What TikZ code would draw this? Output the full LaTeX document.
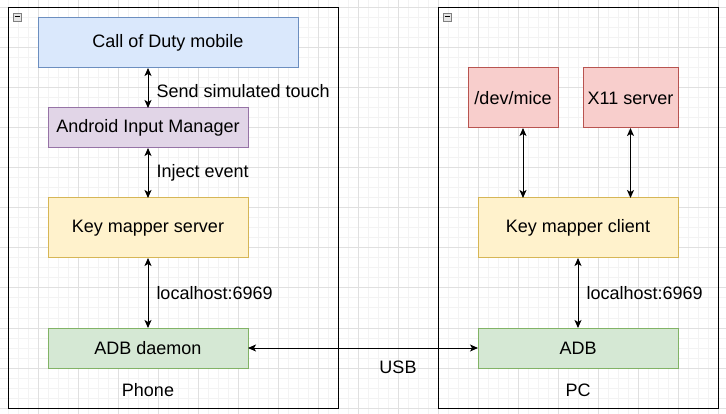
\documentclass[tikz,border=0pt]{standalone}
\usepackage{fontspec}
\setmainfont{Liberation Sans}
\usepackage{xcolor}
\usepackage{tikz}
\usetikzlibrary{positioning}
\usetikzlibrary{arrows.meta}

\definecolor{blueFill}{HTML}{DAE8FC}
\definecolor{blueLine}{HTML}{6C8EBF}
\definecolor{purpleFill}{HTML}{E1D5E7}
\definecolor{purpleLine}{HTML}{9673A6}
\definecolor{yellowFill}{HTML}{FFF2CC}
\definecolor{yellowLine}{HTML}{D6B656}
\definecolor{greenFill}{HTML}{D5E8D4}
\definecolor{greenLine}{HTML}{82B366}
\definecolor{redFill}{HTML}{F8CECC}
\definecolor{redLine}{HTML}{B85450}
\definecolor{gridMinor}{HTML}{F3F3F3}
\definecolor{gridMajor}{HTML}{E0E0E0}

\begin{document}
\begin{tikzpicture}[x=1pt, y=-1pt, font=\fontsize{18pt}{21pt}\selectfont]

        \def\d{70pt}
        \def\h{50pt}

        % Styles for boxes, frames and the two-headed links
        \tikzset{
            box/.style={draw, line width=1pt, inner sep=0pt, outer sep=0pt,
                minimum width=200pt, minimum height=40pt},
            frame/.style={draw=black, line width=1pt, inner sep=0pt, outer sep=0pt},
            link/.style={line width=1pt,
                {Stealth[length=8pt,width=7pt,inset=2pt]}-{Stealth[length=8pt,width=7pt,inset=2pt]}},
            tag/.style={right, inner sep=0pt, xshift=8pt},
        }

        \useasboundingbox (0,0) rectangle (726,414);

        % Background grid
        \begin{scope}[line width=1pt]
            \foreach \gx in {8,18,...,718}
            \draw[gridMinor] (\gx,0) -- (\gx,414);
            \foreach \gy in {8,18,...,408}
            \draw[gridMinor] (0,\gy) -- (726,\gy);
            \foreach \gx in {38,78,...,718}
            \draw[gridMajor] (\gx,0) -- (\gx,414);
            \foreach \gy in {8,48,...,408}
            \draw[gridMajor] (0,\gy) -- (726,\gy);
        \end{scope}

        % Containers
        \node[frame, minimum width=330pt, minimum height=400pt] (phone) at (173,208) {};
        \node[frame, minimum width=280pt, minimum height=400pt] (pc) at (578,208) {};
        \foreach \cx in {17,447} {
            \draw[fill=gray!20, draw=gray, line width=.8pt] (\cx-4,13) rectangle (\cx+4,21);
            \draw[line width=1pt] (\cx-2.5,17) -- (\cx+2.5,17);
        }

        % Phone side
        \node[box, fill=blueFill, draw=blueLine, minimum width=260pt,
            minimum height=50pt] (cod) at (168,43) {Call of Duty mobile};
        \node[box, fill=purpleFill, draw=purpleLine] (aim) at (148,128)
        {Android Input Manager};
        \node[box, fill=yellowFill, draw=yellowLine, minimum height=60pt]
        (kms) [below=\h of aim] {Key mapper server};
        \node[box, fill=greenFill, draw=greenLine] (adbd) [below=\d of kms]
        {ADB daemon};
        \node (phonelabel) at (148,390) {Phone};

        % PC side
        \node[box, fill=redFill, draw=redLine, minimum width=90pt,
            minimum height=60pt] (mice) at (513,98) {/dev/mice};
        \node[box, fill=redFill, draw=redLine, minimum width=95pt,
            minimum height=60pt] (x11) at (630.5,98) {X11 server};
        \node[box, fill=yellowFill, draw=yellowLine, minimum height=60pt]
        (kmc) at (578,228) {Key mapper client};
        \node[box, fill=greenFill, draw=greenLine] (adb) [below=\d of kmc] {ADB};
        \node (pclabel) at (578,390) {PC};

        \node (usb) at (398,367) {USB};
        \coordinate (miceport) at ([xshift=10pt]mice.south);

        \begin{scope}
            \draw[link] (cod.south -| aim) -- (aim.north)
            node[tag, pos=.58] {Send simulated touch};
            \draw[link] (aim.south) -- (kms.north)
            node[tag, midway] {Inject event};
            \draw[link] (kms.south) -- (adbd.north)
            node[tag, midway] {localhost:6969};
            \draw[link] (adbd.east) -- (adb.west);
            \draw[link] (miceport) -- (miceport |- kmc.north);
            \draw[link] (x11.south) -- (x11.south |- kmc.north);
            \draw[link] (kmc.south) -- (adb.north)
            node[tag, midway] {localhost:6969};
        \end{scope}

        \end{tikzpicture}
\end{document}
